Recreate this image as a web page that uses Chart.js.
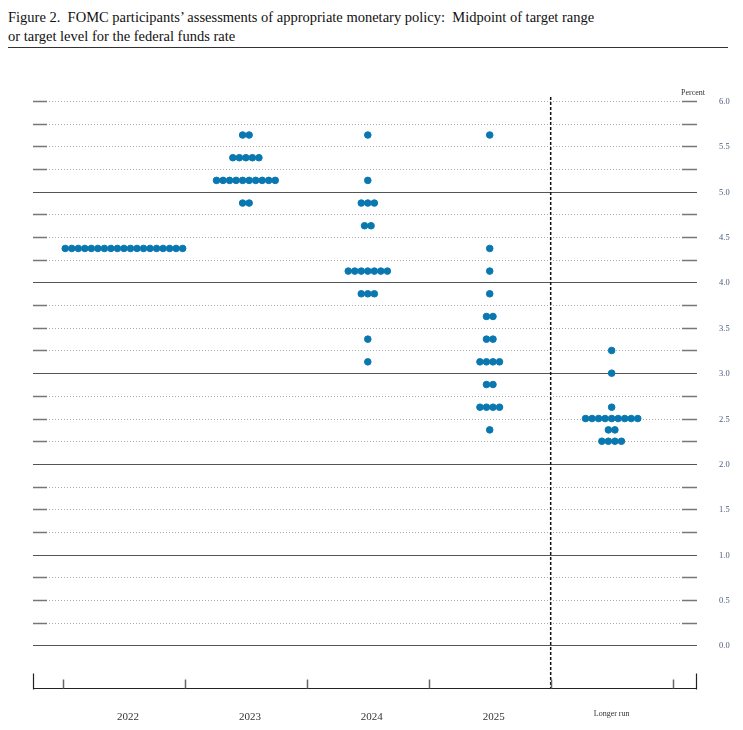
<!DOCTYPE html>
<html><head><meta charset="utf-8">
<script src="https://cdn.jsdelivr.net/npm/chart.js@4"></script>
<style>
body{margin:0;background:#fff;width:743px;height:730px;overflow:hidden;font-family:"DejaVu Serif","Liberation Serif",serif}
#title{position:absolute;left:8px;top:8px;font-size:14.5px;line-height:19px;color:#111;font-family:"Liberation Serif","DejaVu Serif",serif}
#rule{position:absolute;left:8px;top:47px;width:720px;height:1px;background:#333}
#wrap{position:absolute;left:0;top:0;width:743px;height:730px}
</style></head><body>
<div id="title">Figure 2.&nbsp; FOMC participants’ assessments of appropriate monetary policy:&nbsp; Midpoint of target range<br>or target level for the federal funds rate</div>
<div id="rule"></div>
<div id="wrap"><canvas id="c" width="743" height="730"></canvas></div>
<script>
const categories = ["2022","2023","2024","2025","Longer run"];
const rates2022 = [[4.375,19]];
const rates2023 = [[5.625,2],[5.375,5],[5.125,10],[4.875,2]];
const rates2024 = [[5.625,1],[5.125,1],[4.875,3],[4.625,2],[4.125,7],[3.875,3],[3.375,1],[3.125,1]];
const rates2025 = [[5.625,1],[4.375,1],[4.125,1],[3.875,1],[3.625,2],[3.375,2],[3.125,4],[2.875,2],[2.625,4],[2.375,1]];
const ratesLonger = [[3.25,1],[3.0,1],[2.625,1],[2.5,9],[2.375,2],[2.25,4]];
const yTicks = [0,0.5,1,1.5,2,2.5,3,3.5,4,4.5,5,5.5,6];
const allRates = [rates2022,rates2023,rates2024,rates2025,ratesLonger];
const SP = 0.0535;
const pts = [];
allRates.forEach((rows,ci)=>rows.forEach(([r,n])=>{for(let i=0;i<n;i++)pts.push({x:ci+(i-(n-1)/2)*SP,y:r});}));

const deco = {id:'deco',beforeDatasetsDraw(ch){
  const c=ch.ctx,xs=ch.scales.x,ys=ch.scales.y,L=ch.chartArea.left,R=ch.chartArea.right;
  c.save();
  for(let v=0;v<=6.001;v+=0.25){
    const y=Math.round(ys.getPixelForValue(v))+0.5;
    const isInt=Math.abs(v-Math.round(v))<1e-6 && v<5.9;
    if(isInt){c.strokeStyle='#555';c.lineWidth=1.2;c.setLineDash([]);c.beginPath();c.moveTo(L,y);c.lineTo(R,y);c.stroke();}
    else{c.strokeStyle='#777';c.lineWidth=1.3;c.setLineDash([]);c.beginPath();c.moveTo(L,y);c.lineTo(L+14,y);c.moveTo(R-15,y);c.lineTo(R,y);c.stroke();
      c.strokeStyle='#aaa';c.lineWidth=1;c.setLineDash([1,2]);c.beginPath();c.moveTo(L+16,y);c.lineTo(R-17,y);c.stroke();}
  }
  c.setLineDash([3,2]);c.strokeStyle='#111';c.lineWidth=1.5;
  const dx=xs.getPixelForValue(3.5);c.beginPath();c.moveTo(dx,ys.getPixelForValue(6)-4);c.lineTo(dx,ch.chartArea.bottom);c.stroke();
  c.setLineDash([]);c.lineWidth=1.2;c.strokeStyle='#222';
  const b=ch.chartArea.bottom+0.5;
  c.beginPath();c.moveTo(L,b);c.lineTo(R,b);c.stroke();
  c.beginPath();c.moveTo(L+0.5,b-15);c.lineTo(L+0.5,b+1);c.moveTo(R-0.5,b-15);c.lineTo(R-0.5,b+1);c.stroke();
  c.strokeStyle='#666';c.lineWidth=1.5;
  for(let t=-0.5;t<=4.5;t+=1){const x=Math.round(xs.getPixelForValue(t))+0.5;c.beginPath();c.moveTo(x,b-9);c.lineTo(x,b);c.stroke();}
  c.fillStyle='#333';c.textAlign='center';
  categories.forEach((s,i)=>{c.font=i==4?'8px "Liberation Serif",serif':'11px "Liberation Serif",serif';c.fillText(s,xs.getPixelForValue(i)+(i==4?0:4),b+(i==4?27:31));});
  c.font='8px "Liberation Serif",serif';c.textAlign='right';c.fillText('Percent',R+8,ys.getPixelForValue(6)-6);
  c.textAlign='left';c.font='8.5px "Liberation Serif",serif';c.fillStyle='#4a5a7a';
  yTicks.forEach(v=>c.fillText(v.toFixed(1),R+22,ys.getPixelForValue(v)+3));
  c.restore();
}};
new Chart(document.getElementById('c'),{type:'scatter',
 data:{datasets:[{data:pts,backgroundColor:'#0a78b0',borderColor:'#0a78b0',pointRadius:3.3,pointHoverRadius:3.3}]},
 options:{responsive:false,animation:false,events:[],
  layout:{padding:{left:33,right:46,top:101,bottom:42}},
  plugins:{legend:{display:false},tooltip:{enabled:false}},
  scales:{x:{type:'linear',min:-0.746,max:4.70,display:false},
          y:{type:'linear',min:-0.47,max:6.0,display:false}}},
 plugins:[deco]});
</script></body></html>
